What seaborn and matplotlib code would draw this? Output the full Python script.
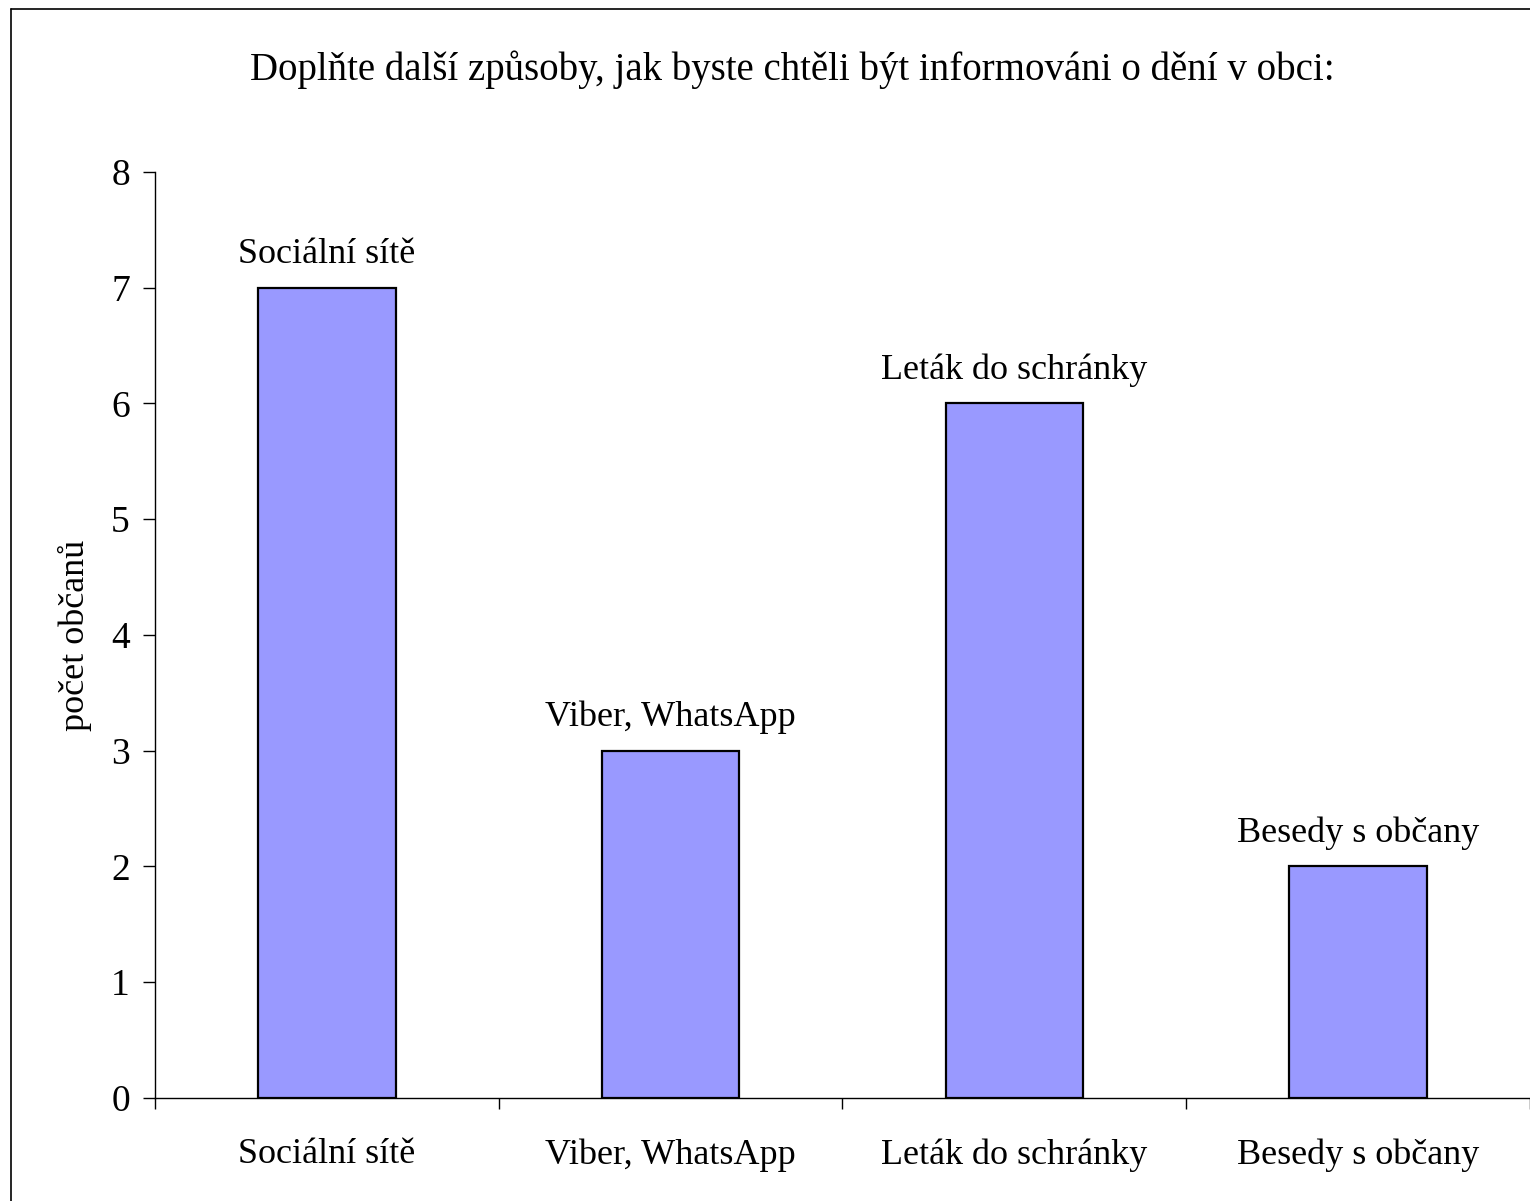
import matplotlib
matplotlib.use("Agg")
import matplotlib.pyplot as plt
import seaborn as sns
import pandas as pd
from matplotlib.lines import Line2D

categories = ["Sociální sítě", "Viber, WhatsApp", "Leták do schránky", "Besedy s občany"]
counts = [7, 3, 6, 2]
y_ticks = [0, 1, 2, 3, 4, 5, 6, 7, 8]
title = "Doplňte další způsoby, jak byste chtěli být informováni o dění v obci:"
y_label = "počet občanů"

df = pd.DataFrame({"kategorie": categories, "pocet": counts})

sns.set_style("white")
plt.rcParams["font.family"] = ["Liberation Serif", "DejaVu Serif"]
plt.rcParams["text.color"] = "black"
plt.rcParams["axes.labelcolor"] = "black"
plt.rcParams["xtick.color"] = "black"
plt.rcParams["ytick.color"] = "black"

fig = plt.figure(figsize=(15.3, 12.01), dpi=100)
ax = fig.add_axes([0.1013, 0.0858, 0.8987, 0.771])

sns.barplot(data=df, x="kategorie", y="pocet", color="#9999FF", saturation=1,
            width=0.4, edgecolor="black", linewidth=1.6, ax=ax)

ax.set_xlim(-0.5, len(categories) - 0.5)
ax.set_ylim(0, 8)
ax.set_yticks(y_ticks)
ax.tick_params(axis="y", labelsize=27, length=9, width=1, pad=9, direction="out", left=True)

# category boundaries as major ticks, labels on minor ticks
ax.set_xticks([i - 0.5 for i in range(len(categories) + 1)])
ax.set_xticklabels([])
ax.set_xticks(range(len(categories)), minor=True)
ax.set_xticklabels(categories, minor=True)
ax.tick_params(axis="x", which="major", length=8, width=1, direction="out", bottom=True)
ax.tick_params(axis="x", which="minor", length=0, labelsize=26, pad=29)

ax.set_xlabel("")
ax.set_ylabel(y_label, fontsize=26, labelpad=14)

for s in ["top", "right"]:
    ax.spines[s].set_visible(False)
for s in ["left", "bottom"]:
    ax.spines[s].set_color("black")
    ax.spines[s].set_linewidth(1)

ax.bar_label(ax.containers[0], labels=categories, padding=12, fontsize=26)

fig.text(0.518, 0.942, title, ha="center", va="center", fontsize=28)

# outer frame
fig.add_artist(Line2D([11 / 1530, 11 / 1530], [0, 1 - 9 / 1201], color="black", lw=1.2))
fig.add_artist(Line2D([11 / 1530, 1], [1 - 9 / 1201, 1 - 9 / 1201], color="black", lw=1.2))

plt.savefig("out.png", dpi=100)
